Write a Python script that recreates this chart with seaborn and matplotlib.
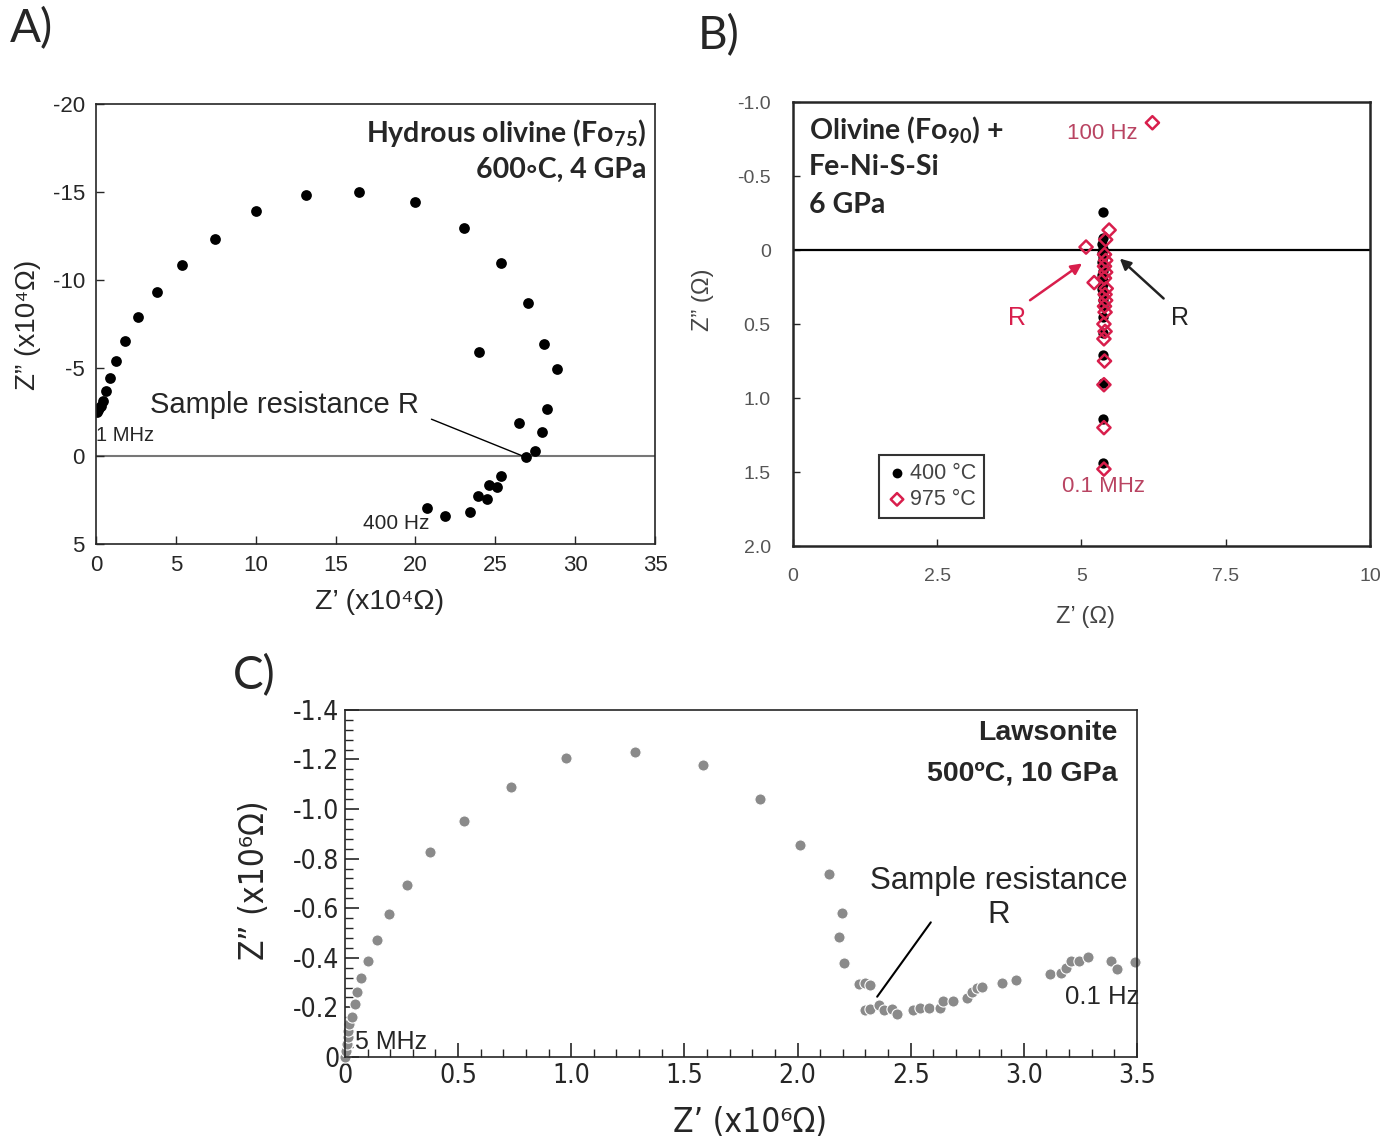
import numpy as np
import pandas as pd
import matplotlib
matplotlib.use("Agg")
import matplotlib.pyplot as plt
from matplotlib.ticker import MultipleLocator
import seaborn as sns

# ---- panel A: hydrous olivine (x10^4 ohm)
a_zr = [0.05, 0.10, 0.18, 0.30, 0.41, 0.64, 0.86, 1.25, 1.82, 2.61, 3.80, 5.41, 7.43, 10.02,
        13.14, 16.48, 19.95, 23.02, 25.34, 27.02, 28.02, 28.86, 23.98, 28.25, 27.95, 26.48,
        27.50, 26.93, 25.34, 25.13, 24.61, 23.89, 24.45, 23.41, 21.86, 20.75]
a_zi = [-2.50, -2.62, -2.74, -2.85, -3.11, -3.68, -4.43, -5.42, -6.53, -7.87, -9.30, -10.87,
        -12.34, -13.91, -14.81, -15.00, -14.42, -12.96, -10.94, -8.72, -6.36, -4.96, -5.89,
        -2.68, -1.38, -1.85, -0.28, 0.04, 1.13, 1.74, 1.66, 2.30, 2.45, 3.17, 3.43, 2.98]

# ---- panel B: olivine + Fe-Ni-S-Si (ohm)
b400_zr = [5.38, 5.38, 5.36, 5.37, 5.36, 5.37, 5.36, 5.38, 5.37, 5.36, 5.38, 5.37, 5.36,
           5.37, 5.38, 5.38, 5.38, 5.38, 5.38, 5.38, 5.38, 5.38]
b400_zi = [-0.26, -0.08, -0.04, -0.01, 0.02, 0.05, 0.08, 0.11, 0.14, 0.17, 0.20, 0.23, 0.26,
           0.30, 0.34, 0.38, 0.45, 0.56, 0.71, 0.90, 1.14, 1.44]
b975_zr = [6.23, 5.48, 5.42, 5.08, 5.40, 5.42, 5.40, 5.22, 5.42, 5.40, 5.43, 5.41, 5.42,
           5.40, 5.41, 5.39, 5.41, 5.39, 5.40, 5.39, 5.39, 5.39]
b975_zi = [-0.86, -0.135, -0.07, -0.02, 0.03, 0.07, 0.11, 0.22, 0.15, 0.19, 0.26, 0.30, 0.34,
           0.38, 0.42, 0.50, 0.55, 0.60, 0.75, 0.91, 1.20, 1.48]

# ---- panel C: lawsonite (x10^6 ohm)
c_zr = [0.000, 0.005, 0.010, 0.012, 0.015, 0.020, 0.030, 0.043, 0.052, 0.071, 0.102, 0.142,
        0.195, 0.274, 0.374, 0.525, 0.732, 0.979, 1.283, 1.581, 1.832, 2.012, 2.138, 2.198,
        2.182, 2.204, 2.271, 2.300, 2.322, 2.300, 2.322, 2.359, 2.382, 2.419, 2.438, 2.512,
        2.541, 2.581, 2.630, 2.641, 2.689, 2.751, 2.769, 2.791, 2.814, 2.904, 2.966, 3.114,
        3.163, 3.185, 3.207, 3.243, 3.284, 3.385, 3.414, 3.491]
c_zi = [0.000, -0.025, -0.052, -0.079, -0.106, -0.133, -0.162, -0.212, -0.262, -0.319,
        -0.386, -0.471, -0.575, -0.692, -0.825, -0.953, -1.090, -1.206, -1.230, -1.179,
        -1.040, -0.857, -0.740, -0.580, -0.484, -0.378, -0.294, -0.297, -0.290, -0.189,
        -0.193, -0.209, -0.189, -0.193, -0.175, -0.189, -0.196, -0.196, -0.196, -0.225,
        -0.225, -0.236, -0.260, -0.277, -0.283, -0.298, -0.310, -0.335, -0.340, -0.358,
        -0.389, -0.389, -0.402, -0.387, -0.354, -0.382]

df_a = pd.DataFrame({"zr": a_zr, "zi": a_zi})
df_b = pd.concat([
    pd.DataFrame({"zr": b400_zr, "zi": b400_zi, "T": "400 °C"}),
    pd.DataFrame({"zr": b975_zr, "zi": b975_zi, "T": "975 °C"}),
])
df_c = pd.DataFrame({"zr": c_zr, "zi": c_zi})

sns.set_style("ticks")
plt.rcParams["font.family"] = ["Liberation Sans", "DejaVu Sans"]
plt.rcParams["axes.unicode_minus"] = False
plt.rcParams["mathtext.fontset"] = "custom"
plt.rcParams["mathtext.rm"] = "Lato"
plt.rcParams["mathtext.bf"] = "Lato:bold"

BOLD = ["Lato", "DejaVu Sans"]
NARROW = ["Liberation Sans Narrow", "DejaVu Sans"]
RED = "#d81e4c"
PINK = "#b94462"

fig = plt.figure(figsize=(14, 11.45), dpi=100)

# ================= A =================
axA = fig.add_axes([0.0686, 0.5249, 0.3993, 0.3843])
sns.scatterplot(data=df_a, x="zr", y="zi", ax=axA, color="black", s=60,
                edgecolor="black", linewidth=0, legend=False)
axA.axhline(0, color="#777777", lw=1.5, zorder=0)
axA.set_xlim(0, 35)
axA.set_ylim(5, -20)
axA.set_xticks(range(0, 36, 5))
axA.set_yticks(range(-20, 6, 5))
axA.tick_params(direction="in", length=6, width=1, labelsize=16, pad=8)
axA.set_xlabel("")
axA.set_ylabel("")
for s in axA.spines.values():
    s.set_linewidth(1.2)
axA.text(0.984, 0.934, r"Hydrous olivine (Fo$\mathbf{_{75}}$)", transform=axA.transAxes,
         ha="right", va="center", fontsize=20.5, fontweight="bold", family=BOLD)
axA.text(0.984, 0.85, "600◦C, 4 GPa", transform=axA.transAxes,
         ha="right", va="center", fontsize=20.5, fontweight="bold", family=BOLD)
axA.text(3.38, -2.88, "Sample resistance R", fontsize=21, ha="left", va="center")
axA.plot([21.0, 26.9], [-2.09, 0.07], color="black", lw=1)
axA.text(0.0, -1.18, "1 MHz", fontsize=14.5, ha="left", va="center")
axA.text(20.9, 3.83, "400 Hz", fontsize=15, ha="right", va="center")
fig.text(380 / 1400, 1 - 602 / 1145, "Z’ (x10⁴Ω)", fontsize=20.5, ha="center", va="center")
fig.text(28 / 1400, 1 - 325 / 1145, "Z” (x10⁴Ω)", fontsize=20, ha="center", va="center",
         rotation=90)
fig.text(0.007, 0.975, "A)", fontsize=33, ha="left", va="center", family=["Lato"])

# ================= B =================
axB = fig.add_axes([0.5664, 0.5231, 0.4121, 0.3878])
sns.scatterplot(data=df_b[df_b["T"] == "400 °C"], x="zr", y="zi", ax=axB, color="black",
                s=55, linewidth=0, label="400 °C", zorder=3)
sns.scatterplot(data=df_b[df_b["T"] == "975 °C"], x="zr", y="zi", ax=axB, marker="D",
                s=45, facecolor="none", edgecolor=RED, linewidth=1.8, label="975 °C", zorder=4)
axB.axhline(0, color="black", lw=1.6, zorder=1)
axB.set_xlim(0, 10)
axB.set_ylim(2.0, -1.0)
axB.set_xticks([0, 2.5, 5, 7.5, 10])
axB.set_xticklabels(["0", "2.5", "5", "7.5", "10"])
axB.set_yticks([-1.0, -0.5, 0, 0.5, 1.0, 1.5, 2.0])
axB.set_yticklabels(["-1.0", "-0.5", "0", "0.5", "1.0", "1.5", "2.0"])
axB.tick_params(direction="in", length=5, width=1, labelsize=14, labelcolor="#555555",
                pad=16)
axB.set_xlabel("")
axB.set_ylabel("")
for s in axB.spines.values():
    s.set_linewidth(1.8)
leg = axB.legend(loc="lower left", bbox_to_anchor=(0.13, 0.04), frameon=True, fancybox=False,
                 edgecolor="black", fontsize=15.5, handletextpad=0.1, borderpad=0.35,
                 handlelength=1.0, labelspacing=0.25, markerscale=0.95)
leg.get_frame().set_linewidth(1.5)
for t in leg.get_texts():
    t.set_color("#444444")
axB.text(0.028, 0.937, r"Olivine (Fo$\mathbf{_{90}}$) +", transform=axB.transAxes,
         ha="left", va="center", fontsize=20.5, fontweight="bold", family=BOLD)
axB.text(0.028, 0.854, "Fe-Ni-S-Si", transform=axB.transAxes,
         ha="left", va="center", fontsize=20.5, fontweight="bold", family=BOLD)
axB.text(0.028, 0.768, "6 GPa", transform=axB.transAxes,
         ha="left", va="center", fontsize=20.5, fontweight="bold", family=BOLD)
axB.text(5.36, -0.79, "100 Hz", color=PINK, fontsize=16, ha="center", va="center")
axB.text(5.39, 1.60, "0.1 MHz", color=PINK, fontsize=16, ha="center", va="center")
axB.annotate("", xy=(5.05, 0.08), xytext=(4.07, 0.35),
             arrowprops=dict(arrowstyle="-|>", color=RED, lw=1.8, mutation_scale=16))
axB.annotate("", xy=(5.63, 0.045), xytext=(6.46, 0.34),
             arrowprops=dict(arrowstyle="-|>", color="#222222", lw=1.8, mutation_scale=16))
axB.text(3.88, 0.46, "R", color=RED, fontsize=18, ha="center", va="center")
axB.text(6.70, 0.46, "R", color="#222222", fontsize=18, ha="center", va="center")
fig.text(1085 / 1400, 1 - 617 / 1145, "Z’ (Ω)", fontsize=17, color="#444444",
         ha="center", va="center")
fig.text(703 / 1400, 1 - 300 / 1145, "Z” (Ω)", fontsize=17, color="#444444",
         ha="center", va="center", rotation=90)
fig.text(0.4986, 0.969, "B)", fontsize=33, ha="left", va="center", family=["Lato"])

# ================= C =================
axC = fig.add_axes([0.2464, 0.0769, 0.5657, 0.3031])
sns.scatterplot(data=df_c, x="zr", y="zi", ax=axC, color="#8a8a8a", s=65,
                edgecolor="white", linewidth=0.8, legend=False, clip_on=False)
axC.set_xlim(0, 3.5)
axC.set_ylim(0, -1.4)
axC.set_xticks([0, 0.5, 1.0, 1.5, 2.0, 2.5, 3.0, 3.5])
axC.set_xticklabels(["0", "0.5", "1.0", "1.5", "2.0", "2.5", "3.0", "3.5"])
axC.set_yticks([0, -0.2, -0.4, -0.6, -0.8, -1.0, -1.2, -1.4])
axC.set_yticklabels(["0", "-0.2", "-0.4", "-0.6", "-0.8", "-1.0", "-1.2", "-1.4"])
axC.xaxis.set_minor_locator(MultipleLocator(0.1))
axC.yaxis.set_minor_locator(MultipleLocator(0.04))
axC.tick_params(which="major", direction="in", length=10, width=1.2, labelsize=19, pad=4)
axC.tick_params(which="minor", direction="in", length=6, width=1)
for lab in axC.get_xticklabels() + axC.get_yticklabels():
    lab.set_family(NARROW)
    lab.set_stretch("condensed")
axC.set_xlabel("")
axC.set_ylabel("")
for s in axC.spines.values():
    s.set_linewidth(1.2)
axC.text(0.976, 0.934, "Lawsonite", transform=axC.transAxes, ha="right", va="center",
         fontsize=20.5, fontweight="bold")
axC.text(0.976, 0.818, "500ºC, 10 GPa", transform=axC.transAxes, ha="right", va="center",
         fontsize=20.5, fontweight="bold")
axC.text(2.889, -0.641, "Sample resistance\nR", fontsize=22.5, ha="center", va="center",
         multialignment="center", linespacing=1.2)
axC.plot([2.589, 2.352], [-0.543, -0.243], color="black", lw=1.5)
axC.text(3.18, -0.242, "0.1 Hz", fontsize=18.5, ha="left", va="center")
axC.text(0.044, -0.06, "5 MHz", fontsize=18, ha="left", va="center")
fig.text(750 / 1400, 1 - 1123 / 1145, "Z’ (x10⁶Ω)", fontsize=24, ha="center", va="center",
         family=NARROW, stretch="condensed")
fig.text(255 / 1400, 1 - 880 / 1145, "Z” (x10⁶Ω)", fontsize=24, ha="center", va="center",
         rotation=90, family=NARROW, stretch="condensed")
fig.text(0.166, 0.41, "C)", fontsize=33, ha="left", va="center", family=["Lato"])

fig.savefig("out.png", dpi=100)
